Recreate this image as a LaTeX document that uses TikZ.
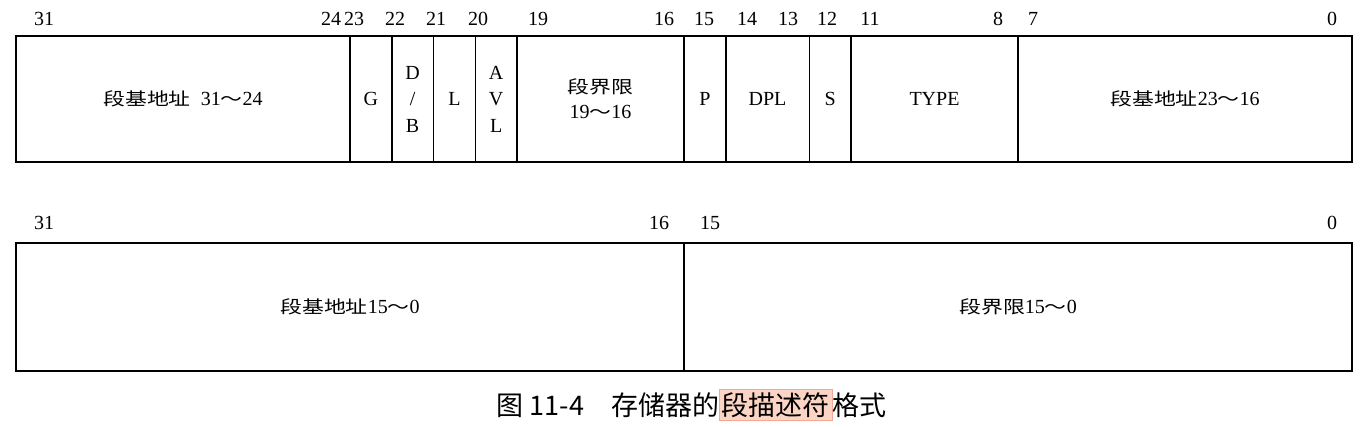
\documentclass[tikz,border=0pt]{standalone}
\usepackage{fontspec}
\setmainfont{Liberation Serif}
\newfontfamily\cjk{Noto Sans CJK SC}
\newfontfamily\cjkwide[FakeStretch=1.25]{Noto Sans CJK SC}
\usetikzlibrary{positioning}
\definecolor{markfill}{RGB}{251,212,196}
\definecolor{markborder}{RGB}{238,170,150}
\newcommand{\fwtilde}{{\cjkwide\fontsize{17.5}{25}\selectfont ～}}
\newcommand{\hz}[1]{{\cjkwide\fontsize{17.5}{25}\selectfont #1}}

\begin{document}
\begin{tikzpicture}[
    x=1pt, y=-1pt,
    every node/.style={font=\fontsize{20}{26.5}\selectfont, inner sep=0pt, outer sep=0pt},
    field/.style={draw, line width=1.5pt, align=center, minimum height=126pt,
                  minimum width=#1*41.75pt},
    lowfield/.style={field=#1, minimum height=128pt},
    bitnum/.style={anchor=center},
    caption/.style={font=\cjk\fontsize{27}{30}\selectfont},
    markbox/.style={caption, fill=markfill, draw=markborder, line width=0.6pt,
                    inner xsep=2.5pt, inner ysep=3pt},
]

\useasboundingbox[fill=white] (0,0) rectangle (1368,427);

%% ── First double word (bits 63..32) ─────────────────────────────────────────
\node[field=8, anchor=north west] (base3) at (16,36) {\hz{段基地址}\hspace{10pt}31\fwtilde24};
\node[field=1, right=0pt of base3] (gbit)  {G};
\node[field=1, right=0pt of gbit]  (dbbit) {D\\/\\B};
\node[field=1, right=0pt of dbbit] (lbit)  {L};
\node[field=1, right=0pt of lbit]  (avl)   {A\\V\\L};
\node[field=4, right=0pt of avl, font=\fontsize{20}{25}\selectfont]
  (limit2) {\hz{段界限}\\19\fwtilde16};
\node[field=1, right=0pt of limit2] (pbit) {P};
\node[field=2, right=0pt of pbit]   (dpl)  {DPL};
\node[field=1, right=0pt of dpl]    (sbit) {S};
\node[field=4, right=0pt of sbit]   (type) {TYPE};
\node[field=8, right=0pt of type]   (base2) {\hz{段基地址}23\fwtilde16};

%% ── Bit numbers above the first double word ──────────────────────────────────
\node[bitnum] (t31) at (44,19)   {31};
\node[bitnum] (t24) at (331,19)  {24};
\node[bitnum] (t23) at (354,19)  {23};
\node[bitnum] (t22) at (395,19)  {22};
\node[bitnum] (t21) at (436,19)  {21};
\node[bitnum] (t20) at (478,19)  {20};
\node[bitnum] (t19) at (538,19)  {19};
\node[bitnum] (t16) at (664,19)  {16};
\node[bitnum] (t15) at (704,19)  {15};
\node[bitnum] (t14) at (747,19)  {14};
\node[bitnum] (t13) at (788,19)  {13};
\node[bitnum] (t12) at (827,19)  {12};
\node[bitnum] (t11) at (870,19)  {11};
\node[bitnum] (t8)  at (998,19)  {8};
\node[bitnum] (t7)  at (1033,19) {7};
\node[bitnum] (t0)  at (1332,19) {0};

%% ── Second double word (bits 31..0) ──────────────────────────────────────────
\node[lowfield=16, anchor=north west] (base1) at (16,243) {\hz{段基地址}15\fwtilde0};
\node[lowfield=16, right=0pt of base1] (limit1) {\hz{段界限}15\fwtilde0};

\node[bitnum] (b31) at (44,223)   {31};
\node[bitnum] (b16) at (659,223)  {16};
\node[bitnum] (b15) at (710,223)  {15};
\node[bitnum] (b0)  at (1332,223) {0};

%% ── Caption ──────────────────────────────────────────────────────────────────
\node[markbox] (capmark) at (775.5,405) {段描述符};
\node[caption, left=0pt of capmark]  (caphead) {图 11-4　存储器的};
\node[caption, right=0pt of capmark] (captail) {格式};

\end{tikzpicture}
\end{document}
